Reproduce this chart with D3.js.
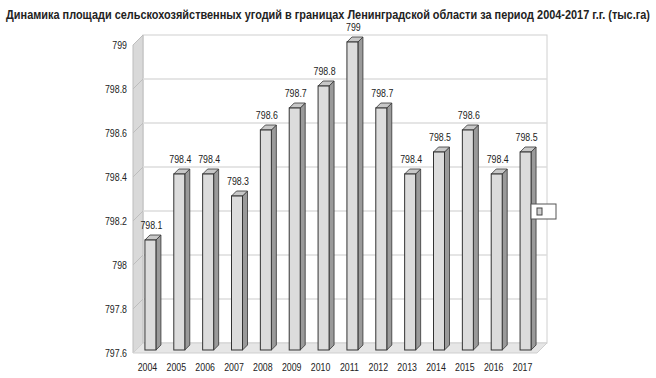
<!DOCTYPE html>
<html lang="ru">
<head>
<meta charset="UTF-8">
<title>Динамика площади сельскохозяйственных угодий</title>
<script src="https://d3js.org/d3.v7.min.js"></script>
<style>
    body { margin: 0; background: #fff; }
    svg { display: block; }
    text { font-family: "Liberation Sans Narrow", "Arial Narrow", "Liberation Sans", sans-serif; fill: #222; }
</style>
</head>
<body>
<script>

// data
const years = ['2004', '2005', '2006', '2007', '2008', '2009', '2010', '2011', '2012', '2013', '2014', '2015', '2016', '2017'];
const values = [798.1, 798.4, 798.4, 798.3, 798.6, 798.7, 798.8, 799, 798.7, 798.4, 798.5, 798.6, 798.4, 798.5];
const yTicks = [797.6, 797.8, 798, 798.2, 798.4, 798.6, 798.8, 799];
const title = 'Динамика площади сельскохозяйственных угодий в границах Ленинградской области за период 2004-2017 г.г. (тыс.га)';

const W = 656, H = 378;
const depth = 10;          // wall depth offset (px)
const barShift = 7;        // bar front face offset from back wall
const barDepth = 5;
const barW = 11;

// no narrow font here, so squeeze the text horizontally
function narrow(sel, k) {
    sel.each(function () {
        const len = this.getComputedTextLength();
        d3.select(this).attr('textLength', len * k).attr('lengthAdjust', 'spacingAndGlyphs');
    });
}

// scales for back wall
const x = d3.scaleBand().domain(years).range([143, 547]);
const y = d3.scaleLinear().domain([797.6, 799]).range([343, 35]);

const svg = d3.select('body').append('svg').attr('width', W).attr('height', H);

// title squeezed with a transform so it fits 646px
const titleG = svg.append('g');
const titleT = titleG.append('text')
    .attr('text-anchor', 'middle')
    .style('font-size', '13px').style('font-weight', 'bold')
    .text(title);
const kT = 644 / titleT.node().getComputedTextLength();
titleG.attr('transform', `translate(${W / 2},19) scale(${kT},1)`);

const x0 = x.range()[0], x1 = x.range()[1];
const yTop = y(799), yBot = y(797.6);

// back wall
svg.append('rect')
    .attr('x', x0).attr('y', yTop).attr('width', x1 - x0).attr('height', yBot - yTop)
    .attr('fill', '#fff').attr('stroke', '#d0d0d0');

// left wall
svg.append('path')
    .attr('d', `M${x0},${yTop}L${x0 - depth},${yTop + depth}L${x0 - depth},${yBot + depth}L${x0},${yBot}Z`)
    .attr('fill', '#d9d9d9').attr('stroke', '#bdbdbd');

// floor
svg.append('path')
    .attr('d', `M${x0},${yBot}L${x1},${yBot}L${x1 - depth},${yBot + depth}L${x0 - depth},${yBot + depth}Z`)
    .attr('fill', '#e6e6e6').attr('stroke', '#cfcfcf');

// gridlines
const grid = svg.append('g');
yTicks.filter(t => t > 797.6 && t < 799).forEach(t => {
    grid.append('line')
        .attr('x1', x0).attr('x2', x1).attr('y1', y(t)).attr('y2', y(t))
        .attr('stroke', '#dcdcdc').attr('stroke-width', 1.5);
    grid.append('line')
        .attr('x1', x0 - depth).attr('x2', x0).attr('y1', y(t) + depth).attr('y2', y(t))
        .attr('stroke', '#bdbdbd');
});

// y tick labels on the front edge
svg.append('g').selectAll('text')
    .data(yTicks)
    .join('text')
    .attr('x', 127).attr('y', d => y(d) + depth + 4)
    .attr('text-anchor', 'end')
    .style('font-size', '11px')
    .text(d => d3.format('')(d))
    .call(narrow, 0.8);

// x labels
svg.append('g').selectAll('text')
    .data(years)
    .join('text')
    .attr('x', d => x(d) + x.bandwidth() / 2 - depth)
    .attr('y', 371)
    .attr('text-anchor', 'middle')
    .style('font-size', '11px')
    .text(d => d)
    .call(narrow, 0.8);

// bars
const bars = svg.append('g').selectAll('g')
    .data(years.map((yr, i) => ({ yr, v: values[i] })))
    .join('g')
    .attr('transform', d => `translate(${x(d.yr) + x.bandwidth() / 2 - barShift - barW / 2},${barShift})`);

bars.append('path')   // side
    .attr('d', d => {
        const t = y(d.v), b = yBot;
        return `M${barW},${t}L${barW + barDepth},${t - barDepth}L${barW + barDepth},${b - barDepth}L${barW},${b}Z`;
    })
    .attr('fill', '#9a9a9a').attr('stroke', '#333').attr('stroke-width', 0.8);

bars.append('path')   // top
    .attr('d', d => {
        const t = y(d.v);
        return `M0,${t}L${barDepth},${t - barDepth}L${barW + barDepth},${t - barDepth}L${barW},${t}Z`;
    })
    .attr('fill', '#c8c8c8').attr('stroke', '#333').attr('stroke-width', 0.8);

bars.append('rect')   // front
    .attr('x', 0).attr('y', d => y(d.v))
    .attr('width', barW).attr('height', d => yBot - y(d.v))
    .attr('fill', '#dcdcdc').attr('stroke', '#333').attr('stroke-width', 1);

bars.append('text')
    .attr('x', barW / 2 + 1).attr('y', d => y(d.v) - 11)
    .attr('text-anchor', 'middle')
    .style('font-size', '11px')
    .text(d => d.v)
    .call(narrow, 0.8);

// legend box
const leg = svg.append('g').attr('transform', 'translate(531,204)');
leg.append('rect').attr('width', 25).attr('height', 15)
    .attr('fill', '#fff').attr('stroke', '#555');
leg.append('rect').attr('x', 6).attr('y', 4).attr('width', 5).attr('height', 7)
    .attr('fill', '#d0d0d0').attr('stroke', '#444');

</script>
</body>
</html>
